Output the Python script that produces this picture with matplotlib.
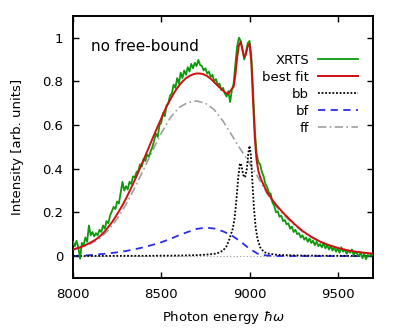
import numpy as np
import matplotlib
matplotlib.use('Agg')
import matplotlib.pyplot as plt

# measured spectrum, 10 eV steps from 8000 to 9700
e_xrts = np.arange(8000, 9701, 10)
xrts = [
    .065, .045, .070, .040, -.012, .060, .050, .085, .065, .140,
    .095, .110, .090, .105, .095, .120, .110, .140, .125, .160,
    .150, .185, .205, .225, .215, .250, .240, .290, .340, .300,
    .320, .305, .340, .330, .365, .360, .385, .390, .420, .410,
    .445, .435, .465, .455, .480, .500, .530, .560, .545, .600,
    .610, .655, .640, .690, .700, .735, .745, .785, .770, .815,
    .790, .840, .815, .850, .830, .865, .845, .880, .860, .885,
    .870, .898, .875, .870, .850, .860, .835, .845, .820, .830,
    .800, .810, .785, .790, .760, .770, .745, .730, .755, .705,
    .760, .790, .880, .960, 1.000, .985, .945, .900, .935, .975,
    .985, .920, .760, .580, .470, .430, .420, .385, .365, .330,
    .315, .290, .285, .245, .230, .200, .205, .180, .185, .160,
    .165, .145, .150, .125, .135, .110, .120, .100, .105, .085,
    .095, .075, .085, .065, .080, .060, .070, .050, .065, .045,
    .055, .040, .060, .035, .050, .030, .045, .025, .040, .020,
    .035, .015, .040, .020, .030, .010, .025, .015, .030, .005,
    .020, .010, .000, .015, -.010, .010, -.015, .005, .000, .010,
    .005,
]

# best fit
e_fit = [8000, 8020, 8040, 8060, 8080, 8100, 8120, 8140, 8160, 8180,
         8200, 8220, 8240, 8260, 8280, 8300, 8320, 8340, 8360, 8380,
         8400, 8420, 8440, 8460, 8480, 8500, 8520, 8540, 8560, 8580,
         8600, 8620, 8640, 8660, 8680, 8700, 8720, 8740, 8760, 8780,
         8800, 8820, 8840, 8860,
         8870, 8880, 8890, 8900, 8910, 8920, 8930, 8940, 8950, 8960,
         8970, 8980, 8990, 9000, 9010, 9020, 9030, 9040, 9050, 9060,
         9080, 9100, 9125, 9150, 9175, 9200, 9250, 9300, 9350, 9400,
         9450, 9500, 9550, 9600, 9650, 9700]
fit = [.030, .035, .040, .046, .054, .062, .071, .082, .096, .113,
       .133, .154, .178, .205, .232, .263, .296, .330, .366, .403,
       .441, .479, .518, .556, .594, .630, .668, .700, .730, .757,
       .780, .799, .814, .825, .832, .836, .836, .832, .824, .812,
       .796, .780, .765, .750,
       .744, .745, .755, .765, .775, .830, .910, .965, .982, .945,
       .910, .925, .962, .972, .890, .710, .540, .440, .390, .362,
       .325, .292, .262, .235, .212, .190, .150, .115, .088, .066,
       .050, .037, .027, .020, .015, .011]

# bound-bound
e_bb = [8000, 8200, 8400, 8600, 8700, 8750, 8800, 8825, 8850, 8870,
        8885, 8895, 8905, 8915, 8925, 8935, 8945, 8950, 8955, 8965,
        8975, 8985, 8993, 9000, 9007, 9015, 9025, 9035, 9045, 9060,
        9080, 9100, 9150, 9200, 9300, 9500, 9700]
bb = [0, .0005, .001, .002, .004, .006, .010, .015, .025, .045,
      .075, .100, .125, .170, .250, .350, .420, .425, .410, .370,
      .360, .400, .470, .505, .470, .360, .220, .130, .080, .040,
      .020, .012, .006, .004, .002, .001, 0]

# bound-free and free-free, 50 eV steps
e_50 = np.arange(8000, 9701, 50)
bf = [0, .002, .004, .008, .012, .017, .023, .031, .040, .051,
      .063, .078, .095, .110, .124, .130, .126, .113, .094, .066,
      .033, .009, .002, 0, 0, 0, 0, 0, 0, 0,
      0, 0, 0, 0, 0]
ff = [.028, .040, .056, .080, .118, .170, .236, .312, .396, .482,
      .562, .632, .680, .703, .710, .700, .670, .618, .553, .488,
      .425, .358, .285, .228, .183, .145, .112, .086, .065, .049,
      .036, .026, .019, .014, .010]

fig = plt.figure(figsize=(3.99, 3.30), dpi=100)
ax = fig.add_axes([0.183, 0.158, 0.752, 0.794])

ax.axhline(0, color='#999999', lw=0.8, ls=(0, (1, 2)), zorder=1)
l_ff, = ax.plot(e_50, ff, color='#a0a0a0', lw=1.2, ls=(0, (5, 2, 1, 2)), label='ff', zorder=2)
l_bf, = ax.plot(e_50, bf, color='#2b2bef', lw=1.3, ls=(0, (4, 3)), label='bf', zorder=3)
l_bb, = ax.plot(e_bb, bb, color='black', lw=1.3, ls=(0, (1, 1)), label='bb', zorder=4)
l_x, = ax.plot(e_xrts, xrts, color='#0a9a0a', lw=1.3, label='XRTS', zorder=5)
l_fit, = ax.plot(e_fit, fit, color='#cc1111', lw=1.4, label='best fit', zorder=6)

ax.set_xlim(8000, 9700)
ax.set_ylim(-0.1, 1.1)
ax.set_xticks([8000, 8500, 9000, 9500])
ax.set_yticks([0, 0.2, 0.4, 0.6, 0.8, 1.0])
ax.set_yticklabels(['0', '0.2', '0.4', '0.6', '0.8', '1'])
ax.tick_params(direction='in', top=True, right=True, length=4.5, width=1,
               labelsize=9.5, pad=7)
for s in ax.spines.values():
    s.set_linewidth(1.4)

ax.set_xlabel(r'Photon energy $\hbar\omega$', fontsize=9.5, labelpad=6)
ax.set_ylabel('Intensity [arb. units]', fontsize=9.5, labelpad=13)

ax.text(0.059, 0.883, 'no free-bound', transform=ax.transAxes,
        fontsize=11, va='center', ha='left')

leg = ax.legend(handles=[l_x, l_fit, l_bb, l_bf, l_ff], loc='upper right',
                bbox_to_anchor=(0.95, 0.855), frameon=False, markerfirst=False,
                fontsize=9.5, handlelength=3.0, handletextpad=0.7,
                labelspacing=0.3, borderpad=0, borderaxespad=0)
# right-align the labels like gnuplot does
for col in leg._legend_box._children[-1]._children:
    col.align = 'right'

plt.savefig('out.png', dpi=100)
